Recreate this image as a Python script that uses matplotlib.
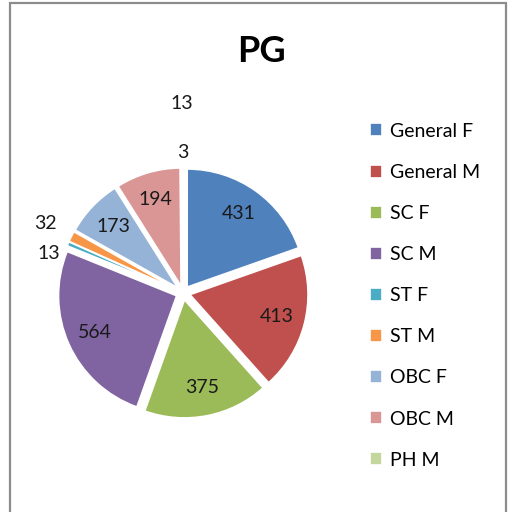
import matplotlib.pyplot as plt
from matplotlib.patches import Rectangle
import numpy as np

# -- data --
categories = ["General F", "General M", "SC F", "SC M", "ST F", "ST M",
              "OBC F", "OBC M", "PH M"]
values = [431, 413, 375, 564, 13, 32, 173, 194, 3]
colors = ["#4F81BD", "#C0504D", "#9BBB59", "#8064A2", "#4BACC6", "#F79646",
          "#95B3D7", "#D99694", "#C3D69B"]
extra_label = "13"   # stray data label sitting above the chart

plt.rcParams['font.family'] = ['Lato', 'DejaVu Sans']

fig = plt.figure(figsize=(5.1, 5.12), dpi=100)

# chart frame
fig.patches.append(Rectangle((10 / 510, -0.02), 496 / 510, 1.02 - 3 / 512,
                             transform=fig.transFigure, fill=False,
                             edgecolor="#8c8c8c", linewidth=1.6))

fig.text(261 / 510, 1 - 51 / 512, "PG", ha="center", va="center",
         fontsize=26, fontweight="bold")

# -- pie --
ax = fig.add_axes([0.058, 0.128, 0.602, 0.6])
wedges, _ = ax.pie(values, colors=colors, startangle=90, counterclock=False,
                   explode=[0.06] * len(values),
                   wedgeprops=dict(edgecolor="white", linewidth=1.2))
ax.set_xlim(-1.3, 1.3)
ax.set_ylim(-1.3, 1.3)
ax.set_aspect("equal")
ax.axis("off")

# data labels: inside for big slices, outside for the small ones
nudge = {4: 7}                 # angle shift (deg) so the two small labels don't collide
outer_r = {4: 1.13, 5: 1.25, 8: 1.13}
for i, (w, v) in enumerate(zip(wedges, values)):
    mid = np.deg2rad((w.theta1 + w.theta2) / 2 + nudge.get(i, 0))
    cx, cy = w.center
    r = outer_r.get(i, 0.76)
    ax.text(cx + r * np.cos(mid), cy + r * np.sin(mid), str(v),
            ha="center", va="center", fontsize=14, color="#1a1a1a")

# the extra "13" label above the PH M label
mid = np.deg2rad((wedges[-1].theta1 + wedges[-1].theta2) / 2)
ax.text(1.6 * np.cos(mid), 1.6 * np.sin(mid), extra_label,
        ha="center", va="center", fontsize=14, color="#1a1a1a")

# -- legend --
fig.legend(wedges, categories, loc="upper left",
           bbox_to_anchor=(362 / 510, 1 - 115 / 512), frameon=False,
           fontsize=14, handlelength=0.65, handleheight=0.65,
           handletextpad=0.4, labelspacing=1.24, borderaxespad=0)

plt.savefig("out.png", dpi=100)
